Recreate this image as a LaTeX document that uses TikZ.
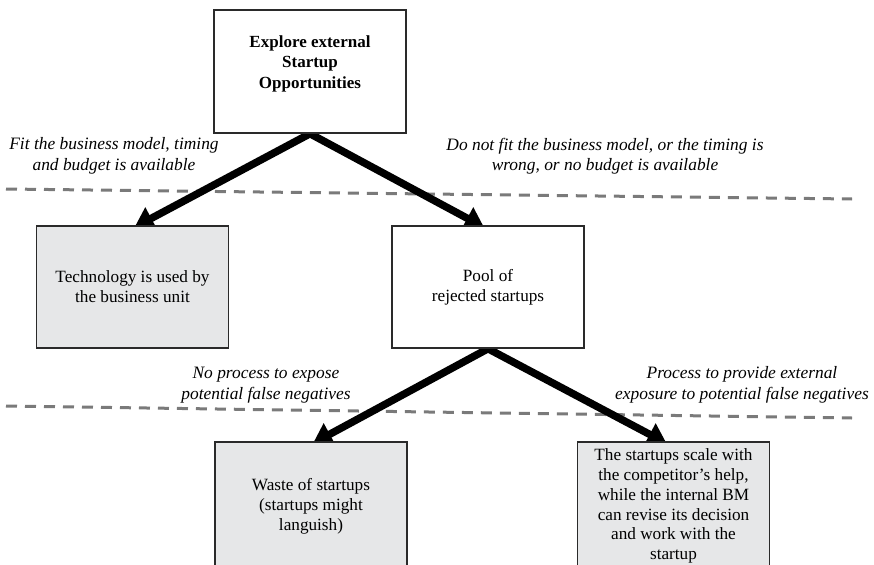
\documentclass[tikz,border=0pt]{standalone}
\usepackage{fontspec}
\setmainfont{Liberation Serif}
\usetikzlibrary{arrows.meta,calc,backgrounds}
\definecolor{boxgray}{HTML}{E6E7E8}
\definecolor{dashgray}{HTML}{7A7A7A}
\definecolor{edgecol}{HTML}{2A2A2A}
\begin{document}
\begin{tikzpicture}[x=1pt,y=-1pt,
  box/.style={draw=edgecol, line width=1.4pt, minimum width=192pt, minimum height=122pt, inner sep=0pt},
  graybox/.style={box, fill=boxgray},
  whitebox/.style={box, fill=white},
  boxtext/.style={font=\fontsize{17.2}{19.8}\selectfont, align=center},
  titletext/.style={font=\fontsize{17}{20.5}\selectfont\bfseries, align=center},
  note/.style={font=\fontsize{17.4}{20.5}\selectfont\itshape, align=center},
  flow/.style={line width=7.5pt, -{Triangle[length=19pt,width=24pt]}},
  divider/.style={draw=dashgray, line width=3pt, dash pattern=on 11pt off 8pt}]
  \useasboundingbox (0,0) rectangle (874,564);
  \clip (0,0) rectangle (874,564);

  % boxes
  \node[whitebox, minimum height=123pt] (top) at (310,71.5) {};
  \node[titletext] (toptext) at (310,63.5) {Explore external\\Startup\\Opportunities};
  \node[graybox, boxtext] (tech) at (132.5,287) {Technology is used by\\the business unit};
  \node[whitebox, boxtext] (pool) at (488,287) {Pool of\\rejected startups};
  \node[graybox, boxtext, minimum height=128pt] (waste) at (311,506) {Waste of startups\\(startups might\\languish)};
  \node[graybox, boxtext, minimum height=128pt] (scale) at (673.5,506)
    {The startups scale with\\the competitor’s help,\\while the internal BM\\can revise its decision\\and work with the\\startup};

  % branch conditions
  \node[note] (fitlbl) at (114,156) {Fit the business model, timing\\and budget is available};
  \node[note] (nofitlbl) at (605,156) {Do not fit the business model, or the timing is\\wrong, or no budget is available};
  \node[note] (noproc) at (266,385) {No process to expose\\potential false negatives};
  \node[note] (proc) at (742,385) {Process to provide external\\exposure to potential false negatives};

  % divider lines and arrows behind the boxes
  \coordinate (dA1) at (6,189);
  \coordinate (dA2) at (852,199);
  \coordinate (dB1) at (6,406);
  \coordinate (dB2) at (852,418);
  \begin{scope}[on background layer]
    \draw[divider] (dA1) -- (dA2);
    \draw[divider] (dB1) -- (dB2);
    \draw[flow] (top.south) -- ($(tech.north)+(2,2)$);
    \draw[flow] (top.south) -- ($(pool.north)+(-4,2)$);
    \draw[flow] (pool.south) -- ($(waste.north)+(2,2)$);
    \draw[flow] (pool.south) -- ($(scale.north)+(-7,2)$);
  \end{scope}
\end{tikzpicture}
\end{document}
